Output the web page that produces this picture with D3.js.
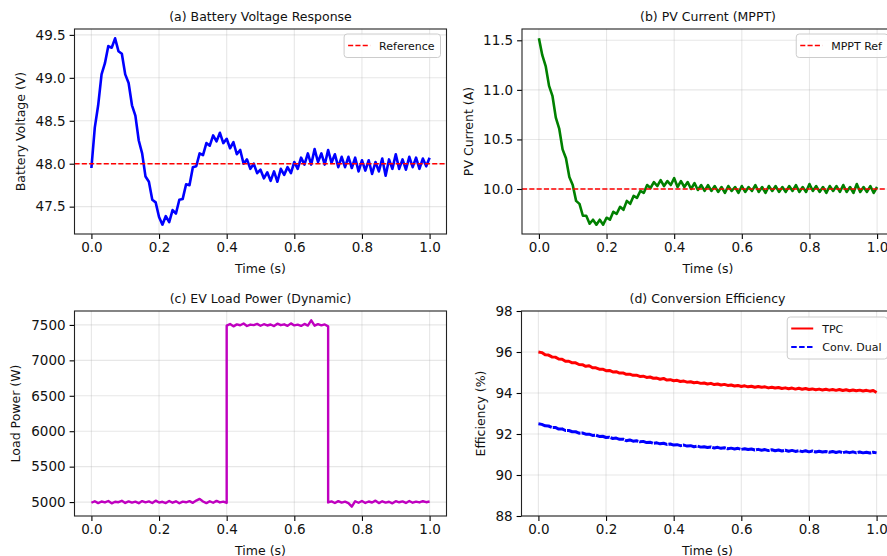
<!DOCTYPE html>
<html>
<head>
<meta charset="utf-8">
<script src="https://cdn.jsdelivr.net/npm/d3@7"></script>
<style>
  body { margin: 0; background: #fff; }
  svg { display: block; font-family: "DejaVu Sans", sans-serif; }
</style>
</head>
<body>
<svg id="fig" width="887" height="556"></svg>
<script>
// sample times (s)
var time = [0.00,0.01,0.02,0.03,0.04,0.05,0.06,0.07,0.08,0.09,
  0.10,0.11,0.12,0.13,0.14,0.15,0.16,0.17,0.18,0.19,
  0.20,0.21,0.22,0.23,0.24,0.25,0.26,0.27,0.28,0.29,
  0.30,0.31,0.32,0.33,0.34,0.35,0.36,0.37,0.38,0.39,
  0.40,0.41,0.42,0.43,0.44,0.45,0.46,0.47,0.48,0.49,
  0.50,0.51,0.52,0.53,0.54,0.55,0.56,0.57,0.58,0.59,
  0.60,0.61,0.62,0.63,0.64,0.65,0.66,0.67,0.68,0.69,
  0.70,0.71,0.72,0.73,0.74,0.75,0.76,0.77,0.78,0.79,
  0.80,0.81,0.82,0.83,0.84,0.85,0.86,0.87,0.88,0.89,
  0.90,0.91,0.92,0.93,0.94,0.95,0.96,0.97,0.98,0.99,1.00];

// (a) battery voltage (V)
var batteryVoltage = [47.95,48.42,48.68,49.04,49.17,49.37,49.35,49.46,49.31,49.28,
  49.04,48.94,48.68,48.56,48.27,48.12,47.85,47.79,47.58,47.55,
  47.38,47.29,47.39,47.32,47.46,47.42,47.58,47.59,47.76,47.75,
  47.96,47.97,48.12,48.10,48.24,48.21,48.33,48.26,48.36,48.24,
  48.29,48.18,48.25,48.11,48.16,48.00,48.05,47.94,48.00,47.89,
  47.93,47.83,47.90,47.80,47.91,47.79,47.94,47.87,47.96,47.89,
  48.02,47.94,48.07,47.99,48.12,47.99,48.17,48.02,48.12,47.99,
  48.16,48.01,48.11,47.96,48.08,47.96,48.08,47.95,48.07,47.91,
  48.04,47.92,48.04,47.88,48.02,47.91,48.06,47.86,48.05,47.94,
  48.11,47.94,48.05,47.93,48.08,47.96,48.07,47.94,48.06,47.97,48.07];
var voltageRef = 48.0;

// (b) PV current (A)
var pvCurrent = [11.52,11.35,11.24,11.04,10.94,10.72,10.61,10.40,10.31,10.12,
  10.04,9.88,9.85,9.73,9.73,9.65,9.69,9.64,9.69,9.64,
  9.71,9.69,9.77,9.75,9.82,9.79,9.88,9.85,9.93,9.91,
  9.98,9.96,10.04,10.01,10.07,10.03,10.09,10.03,10.08,10.04,
  10.11,10.02,10.08,10.02,10.07,10.00,10.06,9.99,10.04,9.98,
  10.04,9.98,10.03,9.97,10.02,9.96,10.03,9.98,10.02,9.96,
  10.03,9.97,10.02,9.98,10.04,9.97,10.02,9.96,10.03,9.98,
  10.03,9.97,10.02,9.97,10.03,9.98,10.04,9.97,10.02,9.97,
  10.05,9.98,10.03,9.97,10.02,9.96,10.03,9.98,10.03,9.97,
  10.04,9.97,10.02,9.96,10.05,9.97,10.02,9.97,10.03,9.96,10.02];
var mpptRef = 10.0;

// (c) EV load power (W); the two step instants appear twice
var loadTime = time.slice(0, 41).concat([0.4], time.slice(41, 71), [0.7], time.slice(71));
var loadPower = [4990,5012,4985,5008,4995,5015,4982,5005,4998,5018,
  4988,5010,4992,5006,4984,5014,4996,5009,4987,5020,
  4993,5004,4986,5016,4991,5011,4983,5007,4997,5013,
  4989,5021,5045,5008,4985,5012,4990,5017,4995,5006,4988,
  7490,7512,7480,7508,7495,7520,7485,7505,7498,7515,
  7488,7510,7492,7506,7484,7518,7496,7509,7487,7522,
  7493,7504,7486,7514,7491,7565,7489,7511,7494,7507,7480,
  4995,5010,4987,5014,4992,5006,4985,4935,5012,4990,
  5016,4988,5008,4994,5020,4986,5011,4993,5005,4982,
  5013,4997,5009,4988,5015,4991,5007,4995,5012,4998,5008];

// (d) conversion efficiency (%)
var effTPC = [96.00,95.97,95.86,95.85,95.76,95.75,95.66,95.65,95.55,95.55,
  95.47,95.47,95.39,95.38,95.30,95.33,95.23,95.23,95.16,95.16,
  95.09,95.10,95.03,95.04,94.97,94.98,94.91,94.92,94.86,94.87,
  94.81,94.82,94.76,94.78,94.72,94.73,94.67,94.71,94.63,94.65,
  94.60,94.62,94.56,94.58,94.53,94.55,94.50,94.52,94.47,94.49,
  94.44,94.47,94.41,94.44,94.39,94.42,94.37,94.39,94.34,94.37,
  94.32,94.35,94.30,94.33,94.28,94.32,94.28,94.30,94.25,94.28,
  94.24,94.27,94.22,94.25,94.21,94.24,94.19,94.23,94.18,94.22,
  94.17,94.20,94.16,94.19,94.15,94.18,94.14,94.17,94.13,94.17,
  94.12,94.16,94.11,94.15,94.11,94.14,94.10,94.13,94.09,94.12,94.02];
var effDual = [92.50,92.47,92.40,92.39,92.32,92.32,92.24,92.25,92.17,92.17,
  92.11,92.11,92.04,92.05,91.99,91.99,91.93,91.94,91.88,91.89,
  91.83,91.84,91.78,91.80,91.74,91.75,91.67,91.71,91.65,91.67,
  91.62,91.64,91.58,91.60,91.55,91.57,91.52,91.55,91.49,91.51,
  91.46,91.48,91.43,91.46,91.41,91.43,91.38,91.41,91.36,91.38,
  91.34,91.37,91.32,91.35,91.30,91.33,91.28,91.31,91.27,91.30,
  91.25,91.28,91.24,91.27,91.22,91.25,91.21,91.24,91.19,91.23,
  91.18,91.22,91.17,91.21,91.16,91.20,91.15,91.19,91.14,91.18,
  91.13,91.17,91.12,91.16,91.12,91.15,91.11,91.15,91.10,91.14,
  91.09,91.13,91.09,91.13,91.08,91.12,91.08,91.11,91.07,91.11,91.08];

// tick labels
var timeTicks = [0, 0.2, 0.4, 0.6, 0.8, 1.0];
var voltageTicks = [47.5, 48.0, 48.5, 49.0, 49.5];
var currentTicks = [10.0, 10.5, 11.0, 11.5];
var powerTicks = [5000, 5500, 6000, 6500, 7000, 7500];
var effTicks = [88, 90, 92, 94, 96, 98];

var svg = d3.select("#fig");
var W = 372, H = 205;

// matplotlib style autoscale: 5% margin
function padded(arrs) {
    var lo = d3.min(arrs, function(a) { return d3.min(a); });
    var hi = d3.max(arrs, function(a) { return d3.max(a); });
    var m = (hi - lo) * 0.05;
    return [lo - m, hi + m];
}

function panel(p) {
    var g = svg.append("g").attr("transform", "translate(" + p.x + "," + p.y + ")");
    var x = d3.scaleLinear().domain([-0.05, 1.05]).range([0, W]);
    var y = d3.scaleLinear().domain(p.yDomain).range([H, 0]);

    // grid
    g.selectAll(".gx").data(timeTicks).enter().append("line")
        .attr("x1", function(d) { return x(d); }).attr("x2", function(d) { return x(d); })
        .attr("y1", 0).attr("y2", H)
        .attr("stroke", "#b0b0b0").attr("stroke-opacity", 0.3).attr("stroke-width", 1.1);
    g.selectAll(".gy").data(p.yTicks).enter().append("line")
        .attr("x1", 0).attr("x2", W)
        .attr("y1", function(d) { return y(d); }).attr("y2", function(d) { return y(d); })
        .attr("stroke", "#b0b0b0").attr("stroke-opacity", 0.3).attr("stroke-width", 1.1);

    // series
    p.series.forEach(function(s) {
        var line = d3.line()
            .x(function(d, i) { return x(s.t[i]); })
            .y(function(d) { return y(d); });
        g.append("path").datum(s.v)
            .attr("d", line)
            .attr("fill", "none")
            .attr("stroke", s.color)
            .attr("stroke-width", p.lw)
            .attr("stroke-linejoin", "round")
            .attr("stroke-dasharray", s.dash || null);
    });

    if (p.ref != null) {
        g.append("line")
            .attr("x1", 0).attr("x2", W)
            .attr("y1", y(p.ref)).attr("y2", y(p.ref))
            .attr("stroke", "red").attr("stroke-width", 1.4)
            .attr("stroke-dasharray", "5.1,2.2");
    }

    // axes
    var xAxis = d3.axisBottom(x).tickValues(timeTicks).tickFormat(d3.format(".1f")).tickSizeOuter(0).tickSize(4.9).tickPadding(4);
    var yAxis = d3.axisLeft(y).tickValues(p.yTicks).tickFormat(p.fmt).tickSizeOuter(0).tickSize(4.9).tickPadding(4);
    var gx = g.append("g").attr("transform", "translate(0," + H + ")").call(xAxis);
    var gy = g.append("g").call(yAxis);
    [gx, gy].forEach(function(a) {
        a.select(".domain").remove();
        a.selectAll("line").attr("stroke", "#000").attr("stroke-width", 1.1);
        a.selectAll("text").attr("font-size", "13.5px").attr("fill", "#111")
            .attr("font-family", "DejaVu Sans, sans-serif");
    });

    g.append("rect").attr("width", W).attr("height", H)
        .attr("fill", "none").attr("stroke", "#222").attr("stroke-width", 1.1);

    // titles and labels
    g.append("text").attr("x", W / 2).attr("y", -8.4)
        .attr("text-anchor", "middle").attr("font-size", "12.5px").attr("fill", "#111")
        .text(p.title);
    g.append("text").attr("x", W / 2).attr("y", H + 38.5)
        .attr("text-anchor", "middle").attr("font-size", "12.5px").attr("fill", "#111")
        .text("Time (s)");
    g.append("text")
        .attr("transform", "translate(" + (-p.ylabOff) + "," + (H / 2) + ") rotate(-90)")
        .attr("text-anchor", "middle").attr("font-size", "12.5px").attr("fill", "#111")
        .text(p.ylabel);

    // legend, upper right
    if (p.legend) {
        var lg = g.append("g");
        var fs = 11, rowH = 18.5;
        var items = lg.selectAll(".li").data(p.legend).enter().append("g");
        items.append("text")
            .attr("x", 35).attr("y", function(d, i) { return 15.5 + i * rowH; })
            .attr("font-size", fs + "px").attr("fill", "#111")
            .text(function(d) { return d.label; });
        var tw = 0;
        items.selectAll("text").each(function() { tw = Math.max(tw, this.getComputedTextLength()); });
        var bw = 35 + tw + 6, bh = 9 + p.legend.length * rowH - 4;
        lg.insert("rect", ":first-child")
            .attr("width", bw).attr("height", bh).attr("rx", 3)
            .attr("fill", "#fff").attr("fill-opacity", 0.8)
            .attr("stroke", "#cccccc").attr("stroke-width", 1);
        items.append("line")
            .attr("x1", 4).attr("x2", 26)
            .attr("y1", function(d, i) { return 11.5 + i * rowH; })
            .attr("y2", function(d, i) { return 11.5 + i * rowH; })
            .attr("stroke", function(d) { return d.color; })
            .attr("stroke-width", function(d) { return d.width; })
            .attr("stroke-dasharray", function(d) { return d.dash || null; });
        lg.attr("transform", "translate(" + (W - 6 - bw) + "," + p.legendTop + ")");
    }
}

panel({
    x: 74.5, y: 29, title: "(a) Battery Voltage Response", ylabel: "Battery Voltage (V)", ylabOff: 50,
    yDomain: padded([batteryVoltage]), yTicks: voltageTicks, fmt: d3.format(".1f"), lw: 2.6,
    series: [{ t: time, v: batteryVoltage, color: "#0000ff" }],
    ref: voltageRef, legendTop: 5,
    legend: [{ label: "Reference", color: "red", width: 1.4, dash: "5.1,2.2" }]
});

panel({
    x: 522, y: 29, title: "(b) PV Current (MPPT)", ylabel: "PV Current (A)", ylabOff: 49,
    yDomain: padded([pvCurrent]), yTicks: currentTicks, fmt: d3.format(".1f"), lw: 2.6,
    series: [{ t: time, v: pvCurrent, color: "#008000" }],
    ref: mpptRef, legendTop: 5,
    legend: [{ label: "MPPT Ref", color: "red", width: 1.4, dash: "5.1,2.2" }]
});

panel({
    x: 74.5, y: 311, title: "(c) EV Load Power (Dynamic)", ylabel: "Load Power (W)", ylabOff: 55,
    yDomain: padded([loadPower]), yTicks: powerTicks, fmt: d3.format("d"), lw: 2.4,
    series: [{ t: loadTime, v: loadPower, color: "#bf00bf" }]
});

panel({
    x: 521.5, y: 311, title: "(d) Conversion Efficiency", ylabel: "Efficiency (%)", ylabOff: 37,
    yDomain: [88, 98], yTicks: effTicks, fmt: d3.format("d"), lw: 3,
    series: [{ t: time, v: effTPC, color: "#ff0000" },
             { t: time, v: effDual, color: "#0000ff", dash: "14,1" }],
    legendTop: 6,
    legend: [{ label: "TPC", color: "#ff0000", width: 2 },
             { label: "Conv. Dual", color: "#0000ff", width: 2, dash: "5.5,2.4" }]
});
</script>
</body>
</html>
